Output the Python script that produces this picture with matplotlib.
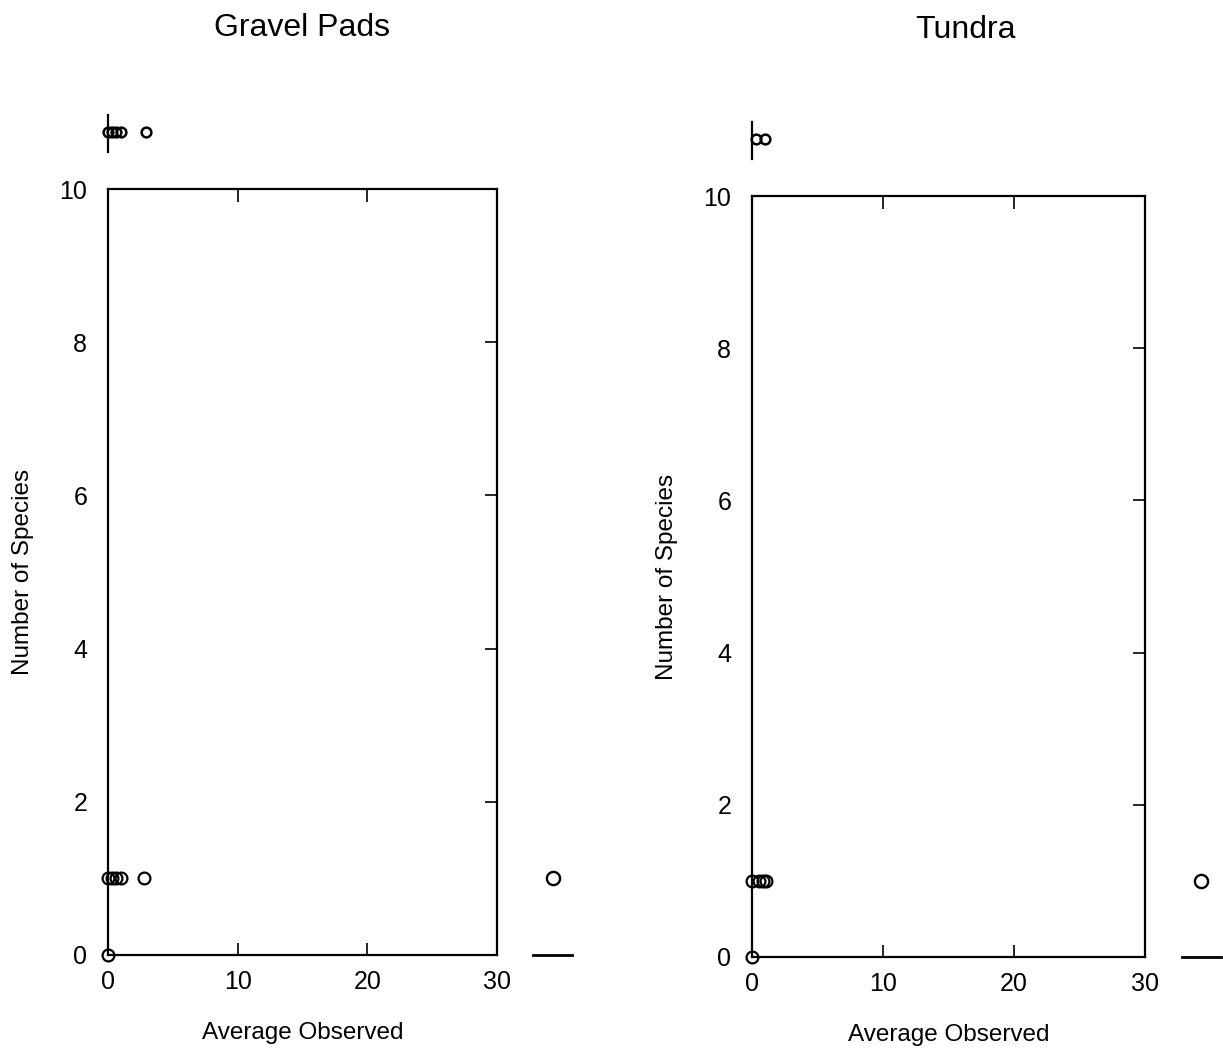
import matplotlib.pyplot as plt

# Gravel pads: points inside the box
gravel_x = [0.0, 0.0, 0.3, 0.6, 1.0, 2.8]
gravel_y = [0, 1, 1, 1, 1, 1]
# marginal points above the box and to the right
gravel_top_x = [0.0, 0.3, 0.6, 1.0, 2.9]
gravel_right_x = 34.3
gravel_right_y = 1

# Tundra
tundra_x = [0.0, 0.0, 0.5, 0.8, 1.1]
tundra_y = [0, 1, 1, 1, 1]
tundra_top_x = [0.3, 1.0]
tundra_right_x = 34.3
tundra_right_y = 1

xticks = [0, 10, 20, 30]
yticks = [0, 2, 4, 6, 8, 10]

plt.rcParams['font.family'] = ['Liberation Sans', 'DejaVu Sans']

fig = plt.figure(figsize=(12.23, 10.55), dpi=100)
ax1 = fig.add_axes([0.0883, 0.0948, 0.318, 0.726])
ax2 = fig.add_axes([0.6149, 0.0929, 0.3213, 0.7213])


def panel(ax, xs, ys, top_x, rx, ry):
    ax.set_xlim(0, 30)
    ax.set_ylim(0, 10)
    ax.plot(xs, ys, 'o', mfc='none', mec='black', ms=8.5, mew=1.6, clip_on=False)
    # strip above the box
    ax.plot(top_x, [10.75] * len(top_x), 'o', mfc='none', mec='black', ms=7, mew=1.8, clip_on=False)
    ax.plot([0, 0], [10.48, 10.97], color='black', lw=1.6, clip_on=False)
    # strip to the right
    ax.plot([rx], [ry], 'o', mfc='none', mec='black', ms=9.5, mew=1.7, clip_on=False)
    ax.plot([32.8, 35.8], [0, 0], color='black', lw=2, clip_on=False)

    ax.set_xticks(xticks)
    ax.set_yticks(yticks)
    ax.tick_params(axis='x', direction='in', top=True, bottom=True, length=9, width=1.2,
                   labelsize=18, pad=11)
    ax.tick_params(axis='y', direction='in', left=False, right=True, labelleft=True,
                   length=9, width=1.2, labelsize=18, pad=15)
    for s in ax.spines.values():
        s.set_linewidth(1.6)
    ax.set_xlabel('Average Observed', fontsize=17.5, labelpad=20)
    ax.set_ylabel('Number of Species', fontsize=17.5, labelpad=18)


panel(ax1, gravel_x, gravel_y, gravel_top_x, gravel_right_x, gravel_right_y)
panel(ax2, tundra_x, tundra_y, tundra_top_x, tundra_right_x, tundra_right_y)

fig.text(302 / 1223, 1 - 28 / 1055, 'Gravel Pads', fontsize=23, ha='center', va='center')
fig.text(965 / 1223, 1 - 30 / 1055, 'Tundra', fontsize=23, ha='center', va='center')

fig.savefig('out.png', dpi=100)
